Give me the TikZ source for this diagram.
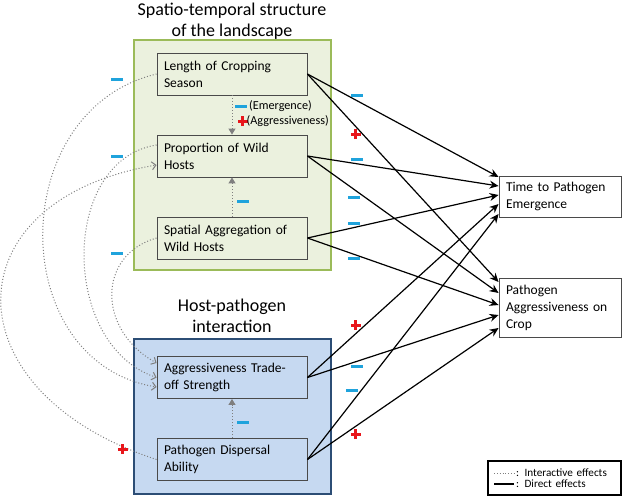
\documentclass[tikz,border=0pt]{standalone}
\usepackage{fontspec}
\setmainfont{Carlito}
\usetikzlibrary{arrows.meta}
\usetikzlibrary{positioning}

\definecolor{panelgreen}{HTML}{EBF1DE}
\definecolor{edgegreen}{HTML}{9BBB59}
\definecolor{panelblue}{HTML}{C6D9F1}
\definecolor{edgeblue}{HTML}{2C4D75}
\definecolor{signblue}{HTML}{1FA3DC}
\definecolor{signred}{HTML}{E8161B}
\definecolor{boxgray}{HTML}{4A4A4A}
\definecolor{dotgray}{HTML}{7F7F7F}

\newcommand{\plusmark}{\rule[-1.5pt]{10pt}{3pt}\hspace{-6.5pt}\rule[-5pt]{3pt}{10pt}\hspace{3.5pt}}

\tikzset{
	factor/.style={draw=boxgray, line width=0.9pt, minimum width=150pt, minimum height=42pt,
		text width=136pt, align=left, inner xsep=7pt, font=\fontsize{13.5}{17}\selectfont},
	outcome/.style={factor, fill=white, minimum width=122pt, text width=108pt},
	heading/.style={align=center, font=\fontsize{18}{21}\selectfont},
	direct/.style={black, line width=1.2pt, -{Stealth[length=9pt,width=8pt,inset=3pt]}},
	interactive/.style={dotgray, dotted, line width=1pt, -{Straight Barb[length=4pt,width=8pt]}},
	vdot/.style={dotgray, dotted, line width=1pt, -{Triangle[length=6pt,width=7pt]}},
	lowering/.style={fill=signblue, minimum width=12pt, minimum height=3pt, inner sep=0pt},
	raising/.style={text=signred, inner sep=0pt},
	small/.style={font=\fontsize{12.2}{14}\selectfont, inner sep=0pt, anchor=west},
}

\begin{document}
\begin{tikzpicture}[x=1pt,y=-1pt]
	\useasboundingbox (0,0) rectangle (622,496);
	
	% panels
	\draw[edgegreen, line width=1.5pt, fill=panelgreen] (134,40) rectangle (331,270);
	\draw[edgeblue, line width=1.8pt, fill=panelblue] (134,339) rectangle (331,494);
	\node[heading] (title-land) at (232,21) {Spatio-temporal structure\\of the landscape};
	\node[heading] (title-host) at (232,316) {Host-pathogen\\interaction};
	
	% factors
	\node[factor, fill=panelgreen] (len) at (232,74) {Length of Cropping\\Season};
	\node[factor, fill=panelgreen] (prop) at (232,156) {Proportion of Wild\\Hosts};
	\node[factor, fill=panelgreen] (spat) at (232,238) {Spatial Aggregation of\\Wild Hosts};
	\node[factor, fill=panelblue] (trade) at (232,377.5) {Aggressiveness Trade-\\off Strength};
	\node[factor, fill=panelblue] (disp) at (232,459.5) {Pathogen Dispersal\\Ability};
	
	% outputs
	\node[outcome, minimum height=41pt] (time) at (560,196.5) {Time to Pathogen\\Emergence};
	\node[outcome, minimum height=59pt] (crop) at (560,307.5) {Pathogen\\Aggressiveness on\\Crop};
	
	% effects inside the panels
	\draw[vdot] (len) -- (prop);
	\draw[vdot] (spat) -- (prop);
	\draw[vdot] (disp) -- (trade);
	\node[lowering] (emer-sign) at (241,106) {};
	\node[small] (emer) at (249,106) {(Emergence)};
	\node[raising] (aggr-sign) at (241,121) {\plusmark};
	\node[small] (aggr) at (246.5,121) {(Aggressiveness)};
	\node[lowering] (spat-sign) at (243,201) {};
	\node[lowering] (disp-sign) at (243,422) {};
	
	% direct effects
	\foreach \src/\dy in {len/19.5, prop/10.5, spat/1.5, trade/-7.5, disp/-17.5}
		\draw[direct] (\src.east) -- ([yshift=\dy pt]time.west);
	\foreach \src/\dy in {len/25.5, prop/14.5, spat/2.5, trade/-7.5, disp/-20.5}
		\draw[direct] (\src.east) -- ([yshift=\dy pt]crop.west);
	
	% interactive effects
	\draw[interactive] (len.west) .. controls (5,110) and (5,362) .. ([yshift=-9.5pt]trade.west);
	\draw[interactive] ([yshift=11pt]prop.west) .. controls (60,160) and (60,345) .. (trade.west);
	\draw[interactive] (spat.west) .. controls (97,255) and (97,330) .. ([yshift=14.5pt]trade.west);
	\draw[interactive] (disp.west) .. controls (-51,392) and (-51,200) .. ([yshift=-9pt]prop.west);
	
	% signs
	\foreach \x/\y [count=\i] in {357/95, 357/159, 354/197, 354/223, 354/258, 357/366, 352/390,
		117/79, 117/156, 117/253}
		\node[lowering] (minus-\i) at (\x,\y) {};
	\foreach \x/\y [count=\i] in {354/134, 354/325, 354/434, 121/449}
		\node[raising] (plus-\i) at (\x,\y) {\plusmark};
	
	% legend
	\node[draw, line width=1.8pt, minimum width=133pt, minimum height=34pt, text width=121pt,
		inner xsep=6pt, align=left, font=\fontsize{11.2}{11.5}\selectfont] (legend) at (554.5,478)
		{\hspace*{22pt}: Interactive effects\\\hspace*{22pt}: Direct effects};
	\draw[dotgray, dotted, line width=0.8pt] ([xshift=7pt,yshift=5pt]legend.west) -- +(20,0);
	\draw[black, line width=1.2pt] ([xshift=7pt,yshift=-6pt]legend.west) -- +(20,0);
\end{tikzpicture}
\end{document}
